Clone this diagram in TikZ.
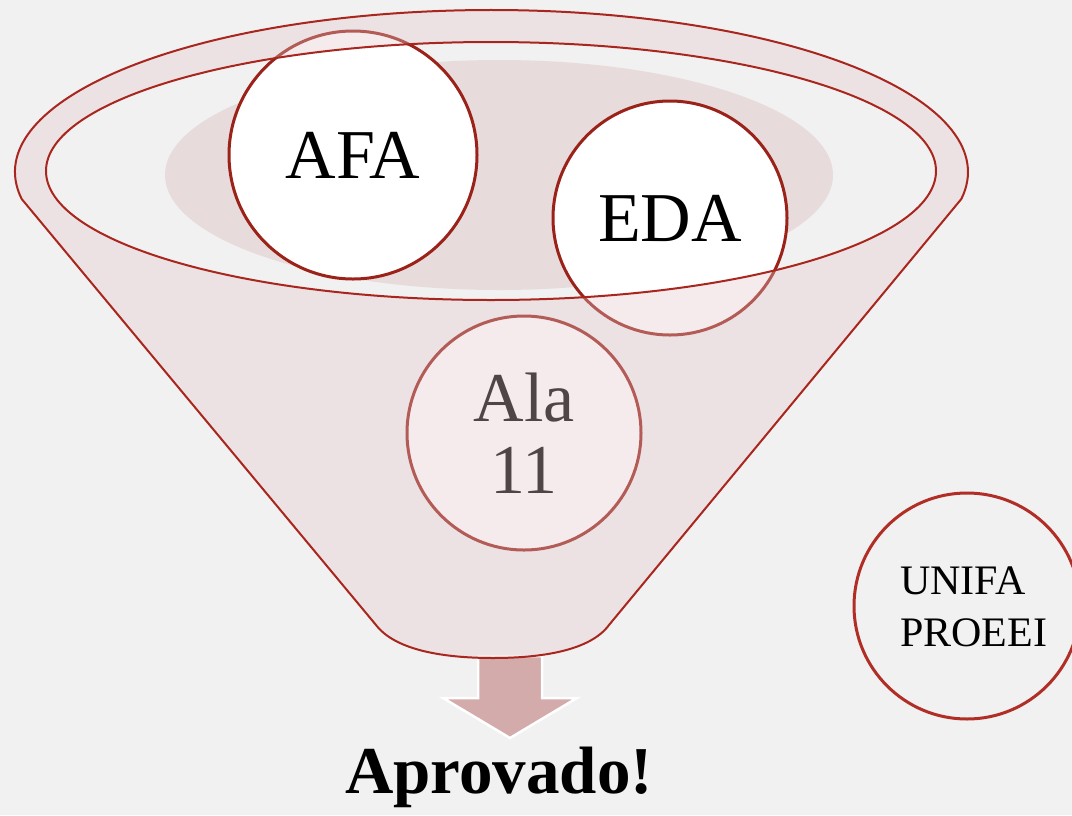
\documentclass[tikz,border=0pt]{standalone}
\usepackage{fontspec}
\setmainfont{Liberation Serif}
\definecolor{bgc}{HTML}{F1F1F1}
\definecolor{innerfill}{HTML}{E7DBDC}
\definecolor{funnelc}{RGB}{228,199,202}
\definecolor{linered}{HTML}{A8261E}
\definecolor{circred}{HTML}{9A2219}
\definecolor{unifared}{HTML}{B02E26}
\definecolor{arrowfill}{HTML}{D3ABAB}
\tikzset{
  ball/.style={circle, draw=circred, line width=3, fill=white, minimum size=#1,
    inner sep=0, font=\fontsize{70}{72}\selectfont, align=center},
  rimline/.style={draw=linered, line width=2},
  funnelbody/.style={fill=funnelc, fill opacity=0.35, even odd rule},
}
\begin{document}
\begin{tikzpicture}[x=1pt, y=-1pt]
  \useasboundingbox (0,0) rectangle (1072,815);
  \fill[bgc] (0,0) rectangle (1072,815);
  % inner darker ellipse
  \fill[innerfill] (499,175) ellipse[x radius=334, y radius=115];
  % balls
  \node[ball=248] (afa) at (353,155) {AFA};
  \node[ball=234] (eda) at (670,218) {EDA};
  \node[ball=234] (ala) at (524,433) {Ala\\11};
  % arrow
  \fill[arrowfill, draw=white, line width=2.5, line join=miter]
    (478,656) -- (542,656) -- (542,698) -- (577,698) -- (510,738) -- (443,698) -- (478,698) -- cycle;
  % funnel body (semi-transparent)
  \fill[funnelbody] (21.7,199) arc[start angle=170.4, end angle=369.6, x radius=476.5, y radius=162]
    -- (609,625) .. controls (590,651) and (540,658) .. (493,658)
    .. controls (446,658) and (396,651) .. (376,625) -- cycle
    (491,171) ellipse[x radius=445, y radius=129];
  % funnel outline
  \draw[rimline] (21.7,199) arc[start angle=170.4, end angle=369.6, x radius=476.5, y radius=162]
    -- (609,625) .. controls (590,651) and (540,658) .. (493,658)
    .. controls (446,658) and (396,651) .. (376,625) -- cycle;
  \draw[rimline] (491,171) ellipse[x radius=445, y radius=129];
  % result
  \node[anchor=base, font=\fontsize{67}{69}\selectfont\bfseries] (ok) at (499,793) {Aprovado!};
  % side circle
  \node[circle, draw=unifared, line width=3, minimum size=226, inner sep=0] (unifa) at (967,606) {};
  \node[anchor=west, align=left, inner sep=0, font=\fontsize{42}{52}\selectfont] (unifatxt) at (900,607) {UNIFA\\PROEEI};
\end{tikzpicture}
\end{document}
